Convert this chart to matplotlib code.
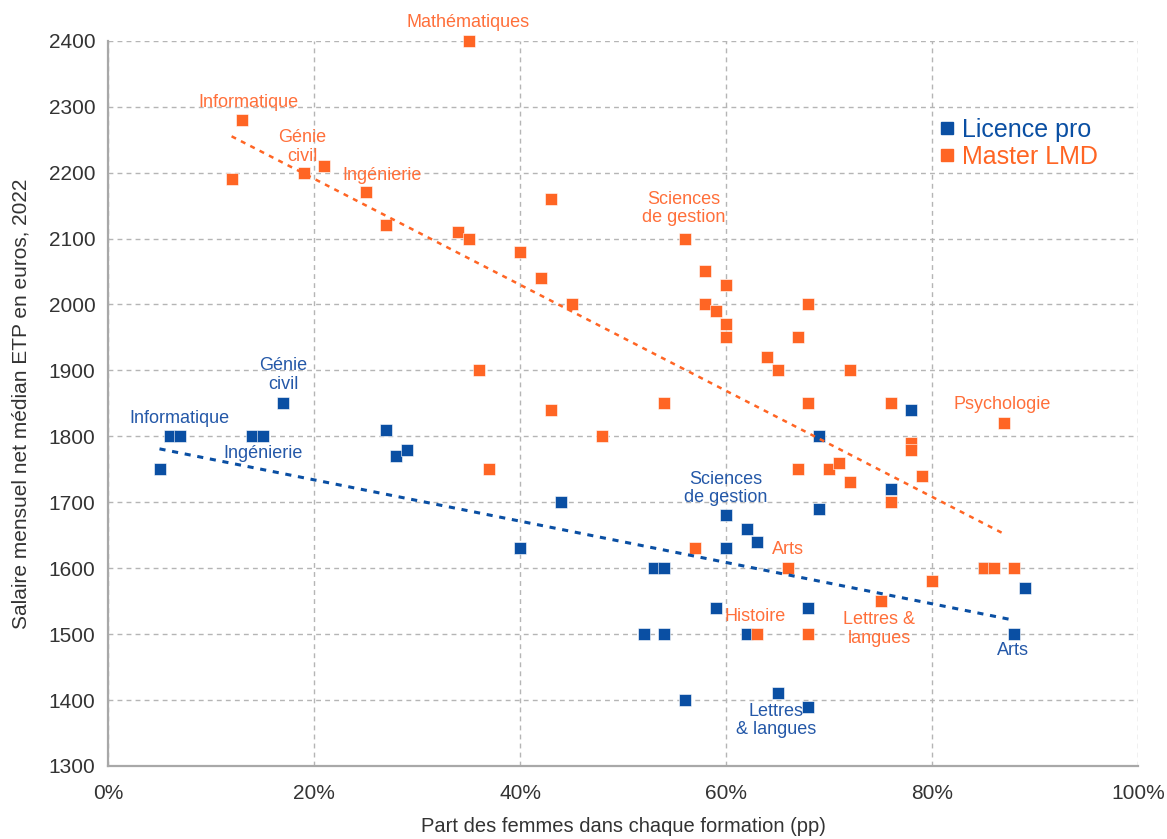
import matplotlib
matplotlib.use("Agg")
import matplotlib.pyplot as plt
from matplotlib.lines import Line2D

# ---------------- data ----------------
lp_x = [5, 6, 7, 14, 15, 17, 27, 28, 29, 40, 44, 52, 53, 54, 54, 56, 59, 60, 60, 62,
        62, 63, 65, 68, 68, 69, 69, 76, 78, 85, 88, 89]
lp_y = [1750, 1800, 1800, 1800, 1800, 1850, 1810, 1770, 1780, 1630, 1700, 1500, 1600,
        1600, 1500, 1400, 1540, 1680, 1630, 1660, 1500, 1640, 1410, 1540, 1390, 1800,
        1690, 1720, 1840, 1600, 1500, 1570]

ml_x = [12, 13, 19, 21, 25, 27, 34, 35, 35, 36, 37, 40, 42, 43, 43, 45, 48, 54, 56, 57,
        58, 58, 59, 60, 60, 60, 63, 64, 65, 66, 67, 67, 68, 68, 68, 70, 71, 72, 72, 75,
        76, 76, 78, 78, 79, 80, 85, 86, 87, 88]
ml_y = [2190, 2280, 2200, 2210, 2170, 2120, 2110, 2100, 2400, 1900, 1750, 2080, 2040,
        2160, 1840, 2000, 1800, 1850, 2100, 1630, 2050, 2000, 1990, 2030, 1970, 1950,
        1500, 1920, 1900, 1600, 1950, 1750, 2000, 1850, 1500, 1750, 1760, 1900, 1730,
        1550, 1850, 1700, 1790, 1780, 1740, 1580, 1600, 1600, 1820, 1600]

lp_trend_x = [5, 88]
lp_trend_y = [1781, 1521]
ml_trend_x = [12, 87]
ml_trend_y = [2255, 1652]

ml_labels = ["Mathématiques", "Informatique", "Génie\ncivil", "Ingénierie",
             "Sciences\nde gestion", "Psychologie", "Arts", "Histoire", "Lettres &\nlangues"]
ml_label_x = [35, 13.6, 18.9, 26.6, 55.9, 86.8, 66.0, 62.8, 74.9]
ml_label_y = [2427, 2307, 2239, 2196, 2146, 1849, 1628, 1527, 1508]

lp_labels = ["Génie\ncivil", "Informatique", "Ingénierie", "Sciences\nde gestion",
             "Arts", "Lettres\n& langues"]
lp_label_x = [17.0, 6.9, 15.1, 60.0, 87.9, 64.9]
lp_label_y = [1893, 1827, 1774, 1721, 1475, 1369]

x_ticks = [0, 20, 40, 60, 80, 100]
x_ticklabels = ["0%", "20%", "40%", "60%", "80%", "100%"]
y_ticks = list(range(1300, 2401, 100))

series_names = ["Licence pro", "Master LMD"]

# ---------------- style ----------------
BLUE = "#0a4fa3"
ORANGE = "#ff6524"
BLUE_TXT = "#2458a8"
ORANGE_TXT = "#ff6f3a"
GRID = "#b5b5b5"
SPINE = "#a8a8a8"
TXT = "#333333"

plt.rcParams["font.family"] = ["Liberation Sans", "DejaVu Sans"]

fig = plt.figure(figsize=(11.67, 8.39), dpi=100)
ax = fig.add_axes([108 / 1167, 1 - 766 / 839, 1030 / 1167, (766 - 40.7) / 839])

ax.set_xlim(0, 100)
ax.set_ylim(1300, 2400)
ax.set_xticks(x_ticks)
ax.set_xticklabels(x_ticklabels)
ax.set_yticks(y_ticks)

ax.grid(True, color=GRID, linestyle=(0, (3.5, 3)), linewidth=1)
ax.set_axisbelow(True)
for s in ["top", "right"]:
    ax.spines[s].set_visible(False)
for s in ["left", "bottom"]:
    ax.spines[s].set_color(SPINE)
    ax.spines[s].set_linewidth(1.6)
    ax.spines[s].set_zorder(3)

ax.tick_params(axis="both", length=0, labelsize=15, labelcolor=TXT)
ax.tick_params(axis="y", pad=9)
ax.tick_params(axis="x", pad=13)

ax.set_xlabel("Part des femmes dans chaque formation (pp)", fontsize=14.5, color=TXT, labelpad=10)
ax.set_ylabel("Salaire mensuel net médian ETP en euros, 2022", fontsize=15, color=TXT, labelpad=13)

ms = 8.8
ax.plot(lp_x, lp_y, linestyle="none", marker="s", markersize=ms, color=BLUE,
        markeredgecolor="white", markeredgewidth=0.4, zorder=4, clip_on=False)
ax.plot(ml_x, ml_y, linestyle="none", marker="s", markersize=ms, color=ORANGE,
        markeredgecolor="white", markeredgewidth=0.4, zorder=5, clip_on=False)

ax.plot(lp_trend_x, lp_trend_y, color=BLUE, linewidth=2.2, linestyle=(0, (2, 2.2)), zorder=6)
ax.plot(ml_trend_x, ml_trend_y, color=ORANGE, linewidth=1.8, linestyle=(0, (2, 2.2)), zorder=6)

for t, x, y in zip(ml_labels, ml_label_x, ml_label_y):
    ax.text(x, y, t, color=ORANGE_TXT, fontsize=13, ha="center", va="center",
            linespacing=1.1, zorder=7, clip_on=False)
for t, x, y in zip(lp_labels, lp_label_x, lp_label_y):
    ax.text(x, y, t, color=BLUE_TXT, fontsize=13, ha="center", va="center",
            linespacing=1.1, zorder=7, clip_on=False)

handles = [Line2D([], [], linestyle="none", marker="s", markersize=8.5, color=BLUE),
           Line2D([], [], linestyle="none", marker="s", markersize=8.5, color=ORANGE)]
leg = ax.legend(handles, series_names, loc="upper left", bbox_to_anchor=(0.807, 0.894),
                frameon=False, fontsize=18, handlelength=0.6, handletextpad=0.3,
                borderaxespad=0, borderpad=0, labelspacing=0.12,
                labelcolor=[BLUE, ORANGE])

fig.savefig("out.png", dpi=100)
